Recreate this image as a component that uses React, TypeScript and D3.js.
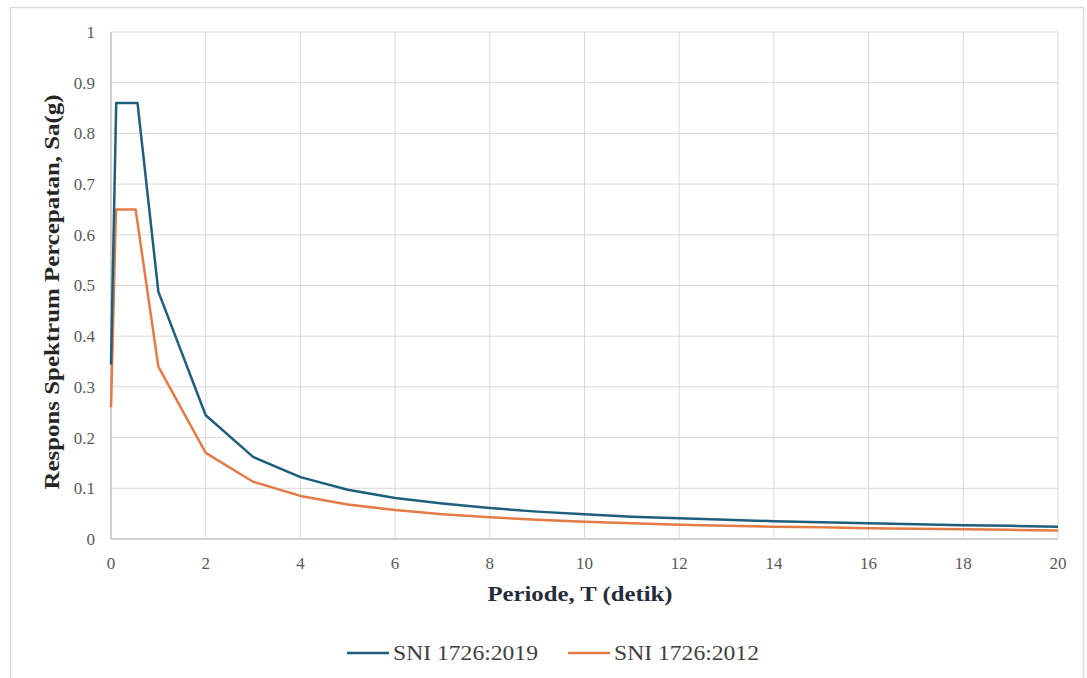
import React from "react";
import * as d3 from "d3";

const periods = [0, 0.11, 0.56, 1, 2, 3, 4, 5, 6, 7, 8, 9, 10, 11, 12, 13, 14, 15, 16, 17, 18, 19, 20];
const sni2019 = [0.344, 0.86, 0.86, 0.488, 0.244, 0.162, 0.122, 0.097, 0.081, 0.07, 0.061, 0.054, 0.049, 0.044, 0.041, 0.038, 0.035, 0.033, 0.031, 0.029, 0.027, 0.026, 0.024];
const periods2012 = [0, 0.105, 0.52, 1, 2, 3, 4, 5, 6, 7, 8, 9, 10, 11, 12, 13, 14, 15, 16, 17, 18, 19, 20];
const sni2012 = [0.26, 0.65, 0.65, 0.34, 0.17, 0.113, 0.085, 0.068, 0.057, 0.049, 0.043, 0.038, 0.034, 0.031, 0.028, 0.026, 0.024, 0.023, 0.021, 0.02, 0.019, 0.018, 0.017];
const xTicks = [0, 2, 4, 6, 8, 10, 12, 14, 16, 18, 20];
const yTicks = [0, 0.1, 0.2, 0.3, 0.4, 0.5, 0.6, 0.7, 0.8, 0.9, 1];
const seriesNames = ["SNI 1726:2019", "SNI 1726:2012"];
const colors = ["#1d5f7c", "#e27b45"];

export default function App() {
  const W = 1087, H = 678;
  const x = d3.scaleLinear().domain([0, 20]).range([111, 1058]);
  const y = d3.scaleLinear().domain([0, 1]).range([539, 32]);
  const line = d3.line<[number, number]>().x(d => x(d[0])).y(d => y(d[1]));
  const d2019 = line(periods.map((t, i) => [t, sni2019[i]] as [number, number])) || "";
  const d2012 = line(periods2012.map((t, i) => [t, sni2012[i]] as [number, number])) || "";
  const font = "Liberation Serif";
  return (
    <div style={{ position: "absolute", left: 0, top: 0 }}>
      <svg width={W} height={H} style={{ display: "block", background: "#fff", fontFamily: font }}>
        <rect x={10.5} y={7.5} width={1073} height={680} fill="#fff" stroke="#d9d9d9" strokeWidth={1.5} />
        {yTicks.map(t => (
          <line key={"gy" + t} x1={x(0)} x2={x(20)} y1={y(t)} y2={y(t)} stroke={t === 0 ? "#bfbfbf" : "#d9d9d9"} strokeWidth={t === 0 ? 1.5 : 1} />
        ))}
        {xTicks.map(t => (
          <line key={"gx" + t} x1={x(t)} x2={x(t)} y1={y(0)} y2={y(1)} stroke={t === 0 ? "#bfbfbf" : "#d9d9d9"} strokeWidth={t === 0 ? 1.5 : 1} />
        ))}
        {yTicks.map(t => (
          <text key={"ty" + t} x={95} y={y(t)} dy="0.35em" textAnchor="end" fontFamily={font} fontSize={17} fill="#595959">
            {d3.format("~g")(t)}
          </text>
        ))}
        {xTicks.map(t => (
          <text key={"tx" + t} x={x(t)} y={563} dy="0.35em" textAnchor="middle" fontFamily={font} fontSize={17} fill="#595959">
            {t}
          </text>
        ))}
        <path d={d2012} fill="none" stroke={colors[1]} strokeWidth={2.5} strokeLinejoin="round" />
        <path d={d2019} fill="none" stroke={colors[0]} strokeWidth={2.5} strokeLinejoin="round" />
        <text x={580} y={594} dy="0.35em" textAnchor="middle" fontFamily={font} fontSize={20} fontWeight="bold" fill="#262c3a" textLength={185} lengthAdjust="spacingAndGlyphs">
          Periode, T (detik)
        </text>
        <text transform={`translate(52,292) rotate(-90)`} dy="0.35em" textAnchor="middle" fontFamily={font} fontSize={20} fontWeight="bold" fill="#262626" textLength={395} lengthAdjust="spacingAndGlyphs">
          Respons Spektrum Percepatan, Sa(g)
        </text>
        {seriesNames.map((n, i) => {
          const lx = i === 0 ? 347 : 568;
          return (
            <g key={n}>
              <line x1={lx} x2={lx + 42} y1={653} y2={653} stroke={colors[i]} strokeWidth={2.5} />
              <text x={lx + 46} y={653} dy="0.35em" fontFamily={font} fontSize={20} fill="#404040" textLength={145} lengthAdjust="spacingAndGlyphs">{n}</text>
            </g>
          );
        })}
      </svg>
    </div>
  );
}
